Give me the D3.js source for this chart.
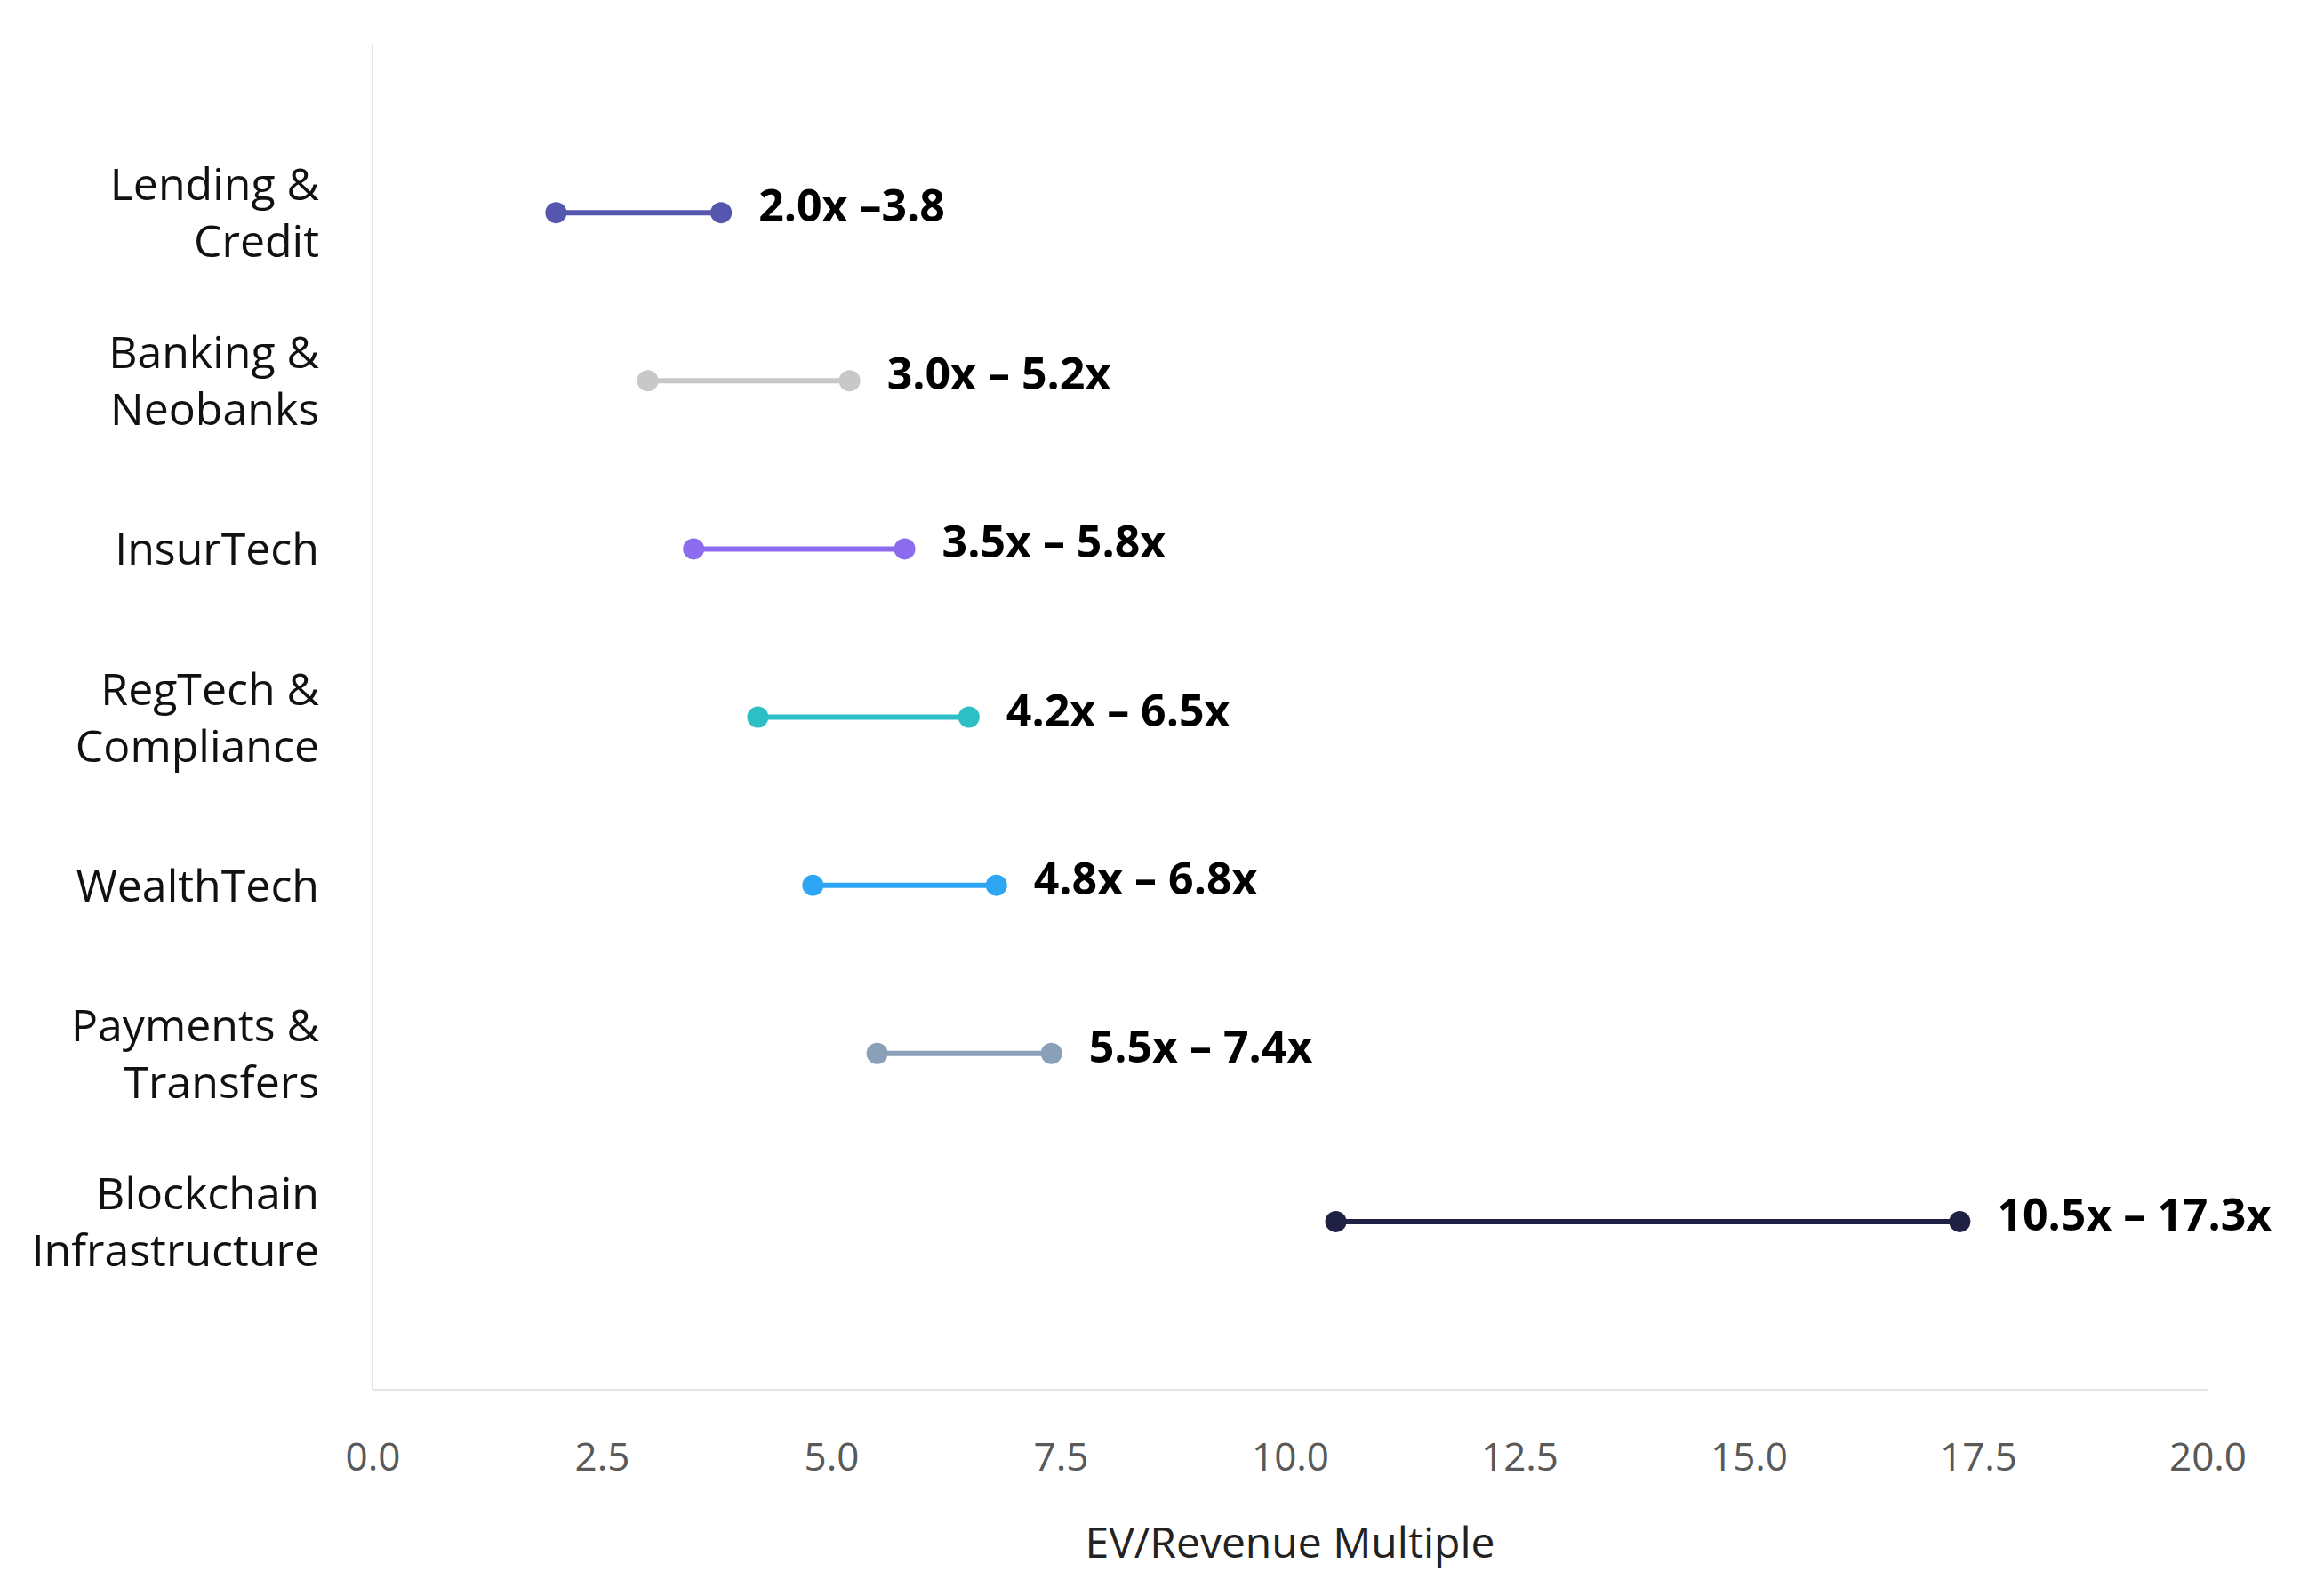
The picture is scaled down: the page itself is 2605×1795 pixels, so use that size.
<!DOCTYPE html>
<html lang="en">
<head>
<meta charset="utf-8">
<title>EV/Revenue ranges</title>
<style>
  body { margin: 0; background: white; }
  text { font-family: "Open Sans", "Noto Sans", sans-serif; }
</style>
</head>
<body>
<svg id="chart" width="2605" height="1795"></svg>
<script src="https://cdn.jsdelivr.net/npm/d3@7"></script>
<script>
var categories = ["Lending &\nCredit", "Banking &\nNeobanks", "InsurTech", "RegTech &\nCompliance",
                  "WealthTech", "Payments &\nTransfers", "Blockchain\nInfrastructure"];
var lows = [2.0, 3.0, 3.5, 4.2, 4.8, 5.5, 10.5];
var highs = [3.8, 5.2, 5.8, 6.5, 6.8, 7.4, 17.3];
var labels = ["2.0x \u20133.8", "3.0x \u2013 5.2x", "3.5x \u2013 5.8x", "4.2x \u2013 6.5x",
              "4.8x \u2013 6.8x", "5.5x \u2013 7.4x", "10.5x \u2013 17.3x"];
var colors = ["#5557ae", "#c8c8c8", "#8b6cef", "#2ebfc6", "#2fa6f4", "#8a9fb8", "#1f2044"];
var ticks = [0, 2.5, 5, 7.5, 10, 12.5, 15, 17.5, 20];

var svg = d3.select("#chart");
var plotLeft = 419, plotRight = 2483, plotTop = 50, plotBottom = 1563;

var x = d3.scaleLinear().domain([0, 20]).range([plotLeft, plotRight]);
var y = d3.scalePoint().domain(d3.range(categories.length)).range([plotTop, plotBottom]).padding(1);

svg.append("line").attr("x1", plotLeft).attr("x2", plotLeft).attr("y1", plotTop).attr("y2", plotBottom)
    .attr("stroke", "#e4e4e4").attr("stroke-width", 2);
svg.append("line").attr("x1", plotLeft).attr("x2", plotRight).attr("y1", plotBottom).attr("y2", plotBottom)
    .attr("stroke", "#e4e4e4").attr("stroke-width", 2);

var xAxis = svg.append("g").attr("transform", "translate(0," + plotBottom + ")")
    .call(d3.axisBottom(x).tickValues(ticks).tickFormat(d3.format(".1f")).tickSize(0).tickPadding(60));
xAxis.select(".domain").remove();
xAxis.selectAll("text").attr("font-size", 44).attr("fill", "#595959")
    .style("font-family", "'Open Sans', sans-serif");

svg.append("text").attr("x", (plotLeft + plotRight) / 2).attr("y", 1752)
    .attr("text-anchor", "middle").attr("font-size", 48).attr("fill", "#222")
    .text("EV/Revenue Multiple");

var rows = svg.selectAll(".row").data(categories).enter().append("g").attr("class", "row");

rows.each(function (c, i) {
    var g = d3.select(this);
    var cy = y(i);
    var parts = c.split("\n");
    var t = g.append("text").attr("x", plotLeft - 60).attr("text-anchor", "end")
        .attr("font-size", 50).attr("fill", "#111");
    parts.forEach(function (p, k) {
        t.append("tspan").attr("x", plotLeft - 60)
            .attr("y", cy + 18 + (k - (parts.length - 1) / 2) * 64).text(p);
    });
    g.append("line").attr("x1", x(lows[i])).attr("x2", x(highs[i]))
        .attr("y1", cy).attr("y2", cy).attr("stroke", colors[i]).attr("stroke-width", 6);
    [lows[i], highs[i]].forEach(function (v) {
        g.append("circle").attr("cx", x(v)).attr("cy", cy).attr("r", 12).attr("fill", colors[i]);
    });
    g.append("text").attr("x", x(highs[i]) + 42).attr("y", cy + 10)
        .attr("font-size", 50).attr("font-weight", "bold").attr("fill", "#000")
        .text(labels[i]);
});
</script>
</body>
</html>
